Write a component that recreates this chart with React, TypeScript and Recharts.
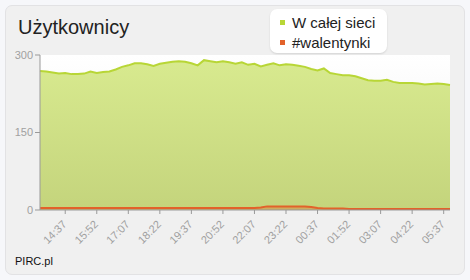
import React from 'react';
import { ComposedChart, Area, XAxis, YAxis, CartesianGrid } from 'recharts';

const times = [
  '13:37','13:52','14:07','14:22','14:37','14:52','15:07','15:22','15:37','15:52',
  '16:07','16:22','16:37','16:52','17:07','17:22','17:37','17:52','18:07','18:22',
  '18:37','18:52','19:07','19:22','19:37','19:52','20:07','20:22','20:37','20:52',
  '21:07','21:22','21:37','21:52','22:07','22:22','22:37','22:52','23:07','23:22',
  '23:37','23:52','00:07','00:22','00:37','00:52','01:07','01:22','01:37','01:52',
  '02:07','02:22','02:37','02:52','03:07','03:22','03:37','03:52','04:07','04:22',
  '04:37','04:52','05:07','05:22','05:37','05:52',
];

const wholeNetwork = [
  269, 268, 266, 264, 265, 263, 263, 264, 268, 265,
  267, 268, 272, 277, 280, 284, 284, 282, 279, 283,
  285, 287, 288, 287, 284, 280, 290, 288, 286, 288,
  286, 283, 286, 281, 283, 278, 281, 284, 280, 282,
  281, 279, 277, 273, 270, 274, 265, 263, 261, 261,
  259, 255, 251, 250, 250, 252, 248, 246, 246, 246,
  245, 243, 244, 245, 244, 242,
];

const valentines = [
  4, 4, 4, 4, 4, 4, 4, 4, 4, 4,
  4, 4, 4, 4, 4, 4, 4, 4, 4, 4,
  4, 4, 4, 4, 4, 4, 4, 4, 4, 4,
  4, 4, 4, 4, 4, 5, 7, 7, 7, 7,
  7, 7, 7, 6, 4, 3, 3, 3, 3, 2,
  2, 2, 2, 2, 2, 2, 2, 2, 2, 2,
  2, 2, 2, 2, 2, 2,
];

const tickLabels = ['14:37','15:52','17:07','18:22','19:37','20:52','22:07','23:22','00:37','01:52','03:07','04:22','05:37'];
const yTicks = [0, 150, 300];

const seriesNames = ['W całej sieci', '#walentynki'];
const seriesColors = ['#b8d636', '#e2622a'];

const data = times.map((t, i) => ({ time: t, all: wholeNetwork[i], val: valentines[i] }));

const XTick = (props: any) => {
  const { x, y, payload } = props;
  return (
    <g transform={`translate(${x + 2},${y + 9})`}>
      <text x={0} y={0} textAnchor="end" transform="rotate(-45)" fill="#a0a0a0" fontSize={11} fontFamily="Liberation Sans, Arial, sans-serif">
        {payload.value}
      </text>
    </g>
  );
};

export default function App() {
  return (
    <div style={{ position: 'absolute', left: 0, top: 0, width: 470, height: 280, background: '#f6f7fa', fontFamily: 'Liberation Sans, Arial, sans-serif' }}>
      <div style={{ position: 'absolute', left: 5, top: 5, width: 458, height: 268, background: '#f0f0f0', border: '1px solid #e2e2e4', borderRadius: 7 }} />
      <div style={{ position: 'absolute', left: 0, top: 0 }}>
        <ComposedChart width={470} height={280} data={data} margin={{ top: 55, right: 20, bottom: 0, left: 0 }}>
          <defs>
            <linearGradient id="bgGrad" x1="0" y1="0" x2="0" y2="1">
              <stop offset="0%" stopColor="#ffffff" />
              <stop offset="100%" stopColor="#ececec" />
            </linearGradient>
            <linearGradient id="greenGrad" x1="0" y1="0" x2="0" y2="1">
              <stop offset="0%" stopColor="#d8ea8f" />
              <stop offset="100%" stopColor="#c4d47c" />
            </linearGradient>
          </defs>
          <CartesianGrid horizontal={false} vertical={false} fill="url(#bgGrad)" stroke="none" />
          <XAxis
            dataKey="time"
            type="category"
            ticks={tickLabels}
            interval={0}
            height={70}
            tick={<XTick />}
            tickSize={4}
            axisLine={{ stroke: '#999999' }}
            tickLine={{ stroke: '#999999' }}
          />
          <YAxis
            domain={[0, 300]}
            ticks={yTicks}
            width={40}
            tickSize={5}
            tick={{ fill: '#a0a0a0', fontSize: 11, fontFamily: 'Liberation Sans, Arial, sans-serif' }}
            axisLine={{ stroke: '#999999' }}
            tickLine={{ stroke: '#999999' }}
          />
          <Area
            type="linear"
            dataKey="all"
            name={seriesNames[0]}
            stroke={seriesColors[0]}
            strokeWidth={2}
            fill="url(#greenGrad)"
            fillOpacity={1}
            isAnimationActive={false}
            dot={false}
            activeDot={false}
          />
          <Area
            type="linear"
            dataKey="val"
            name={seriesNames[1]}
            stroke={seriesColors[1]}
            strokeWidth={2}
            fill={seriesColors[1]}
            fillOpacity={0.35}
            isAnimationActive={false}
            dot={false}
            activeDot={false}
          />
        </ComposedChart>
      </div>
      <div style={{ position: 'absolute', left: 18, top: 14, fontSize: 20, color: '#222', lineHeight: '26px' }}>Użytkownicy</div>
      <div style={{ position: 'absolute', left: 270, top: 9, width: 117, height: 44, background: '#ffffff', borderRadius: 7, boxShadow: '0 1px 2px rgba(0,0,0,0.12)' }}>
        {seriesNames.map((n, i) => (
          <div key={n} style={{ position: 'absolute', left: 10, top: 3 + i * 20, height: 20, display: 'flex', alignItems: 'center', fontSize: 15, color: '#222', whiteSpace: 'nowrap' }}>
            <span style={{ display: 'inline-block', width: 5, height: 5, background: seriesColors[i], marginRight: 7 }} />
            {n}
          </div>
        ))}
      </div>
      <div style={{ position: 'absolute', left: 15, top: 254, fontSize: 11, color: '#111', lineHeight: '14px' }}>PIRC.pl</div>
    </div>
  );
}
